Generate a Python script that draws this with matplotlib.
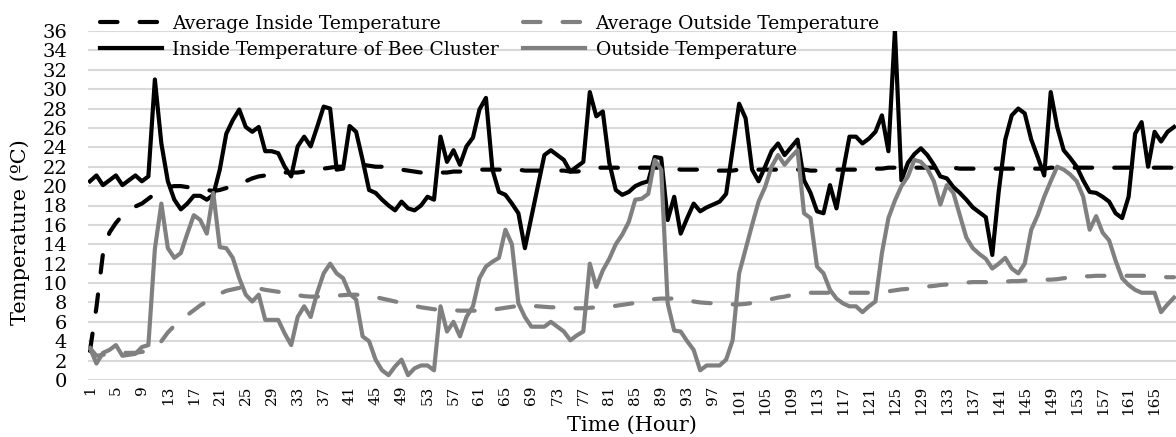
import matplotlib
matplotlib.use("Agg")
import matplotlib.pyplot as plt
import numpy as np

hours = np.arange(1, 169)

inside = [20.5, 21.1, 20.1, 20.6, 21.1, 20.1, 20.6, 21.1, 20.5, 21.0,
          31.0, 24.4, 20.5, 18.6, 17.6, 18.2, 19.0, 19.0, 18.6, 19.1,
          21.7, 25.4, 26.8, 27.9, 26.1, 25.6, 26.1, 23.6, 23.6, 23.4,
          22.0, 21.0, 24.1, 25.1, 24.1, 26.1, 28.2, 28.0, 21.7, 21.8,
          26.2, 25.6, 22.7, 19.6, 19.3, 18.6, 18.0, 17.5, 18.4, 17.7,
          17.5, 18.0, 18.9, 18.6, 25.1, 22.5, 23.7, 22.2, 24.1, 25.0,
          27.9, 29.1, 21.7, 19.4, 19.1, 18.2, 17.2, 13.6, 16.8, 20.0,
          23.2, 23.7, 23.2, 22.7, 21.5, 22.0, 22.5, 29.7, 27.2, 27.7,
          22.4, 19.6, 19.1, 19.4, 20.0, 20.3, 20.5, 23.0, 22.9, 16.5,
          18.9, 15.1, 16.7, 18.2, 17.4, 17.8, 18.1, 18.4, 19.2, 23.8,
          28.5, 27.0, 21.7, 20.5, 22.0, 23.6, 24.4, 23.2, 24.0, 24.8,
          20.6, 19.3, 17.4, 17.2, 20.1, 17.7, 21.5, 25.1, 25.1, 24.4,
          24.9, 25.6, 27.3, 23.6, 36.1, 20.6, 22.4, 23.3, 23.9, 23.2,
          22.2, 21.0, 20.8, 19.9, 19.3, 18.6, 17.8, 17.3, 16.8, 12.9,
          19.5, 24.8, 27.3, 28.0, 27.5, 24.8, 23.0, 21.1, 29.7, 26.1,
          23.7, 22.9, 22.0, 20.6, 19.4, 19.3, 18.9, 18.4, 17.2, 16.7,
          18.9, 25.4, 26.6, 22.0, 25.6, 24.6, 25.6, 26.1]

outside = [3.3, 1.7, 2.8, 3.1, 3.6, 2.5, 2.6, 2.7, 3.4, 3.6,
           13.5, 18.2, 13.6, 12.6, 13.1, 15.1, 17.0, 16.5, 15.1, 19.3,
           13.7, 13.6, 12.6, 10.5, 8.8, 8.1, 8.8, 6.2, 6.2, 6.2,
           4.8, 3.6, 6.5, 7.6, 6.5, 9.0, 11.0, 12.0, 11.0, 10.5,
           8.9, 8.3, 4.5, 4.0, 2.1, 1.0, 0.5, 1.4, 2.1, 0.5,
           1.2, 1.5, 1.5, 1.0, 7.6, 5.0, 6.0, 4.5, 6.5, 7.6,
           10.5, 11.7, 12.2, 12.6, 15.5, 14.0, 7.9, 6.5, 5.5, 5.5,
           5.5, 6.0, 5.5, 5.0, 4.1, 4.6, 5.0, 12.0, 9.6, 11.3,
           12.5, 14.0, 15.0, 16.3, 18.6, 18.7, 19.2, 22.7, 21.7, 7.9,
           5.1, 5.0, 4.0, 3.1, 1.0, 1.5, 1.5, 1.5, 2.1, 4.1,
           11.0, 13.5, 16.0, 18.4, 19.9, 22.0, 23.2, 22.2, 23.0, 23.7,
           17.2, 16.7, 11.7, 11.0, 9.3, 8.4, 7.9, 7.6, 7.6, 7.0,
           7.6, 8.1, 13.1, 16.7, 18.5, 20.0, 21.0, 22.7, 22.5, 21.8,
           20.5, 18.1, 20.1, 19.3, 17.0, 14.7, 13.6, 13.0, 12.5, 11.5,
           12.0, 12.6, 11.5, 11.0, 12.0, 15.5, 17.0, 18.9, 20.5, 22.0,
           21.7, 21.2, 20.5, 18.9, 15.5, 16.9, 15.2, 14.4, 12.3, 10.5,
           9.8, 9.3, 9.0, 9.0, 9.0, 7.0, 7.8, 8.5]

avg_inside = [3.0, 7.5, 13.0, 15.2, 16.2, 17.0, 17.5, 17.9, 18.2, 18.7,
              19.2, 19.6, 19.9, 20.0, 20.0, 19.9, 19.8, 19.7, 19.6, 19.5,
              19.6, 19.8, 20.0, 20.2, 20.5, 20.8, 21.0, 21.1, 21.2, 21.4,
              21.4, 21.4, 21.4, 21.5, 21.6, 21.7, 21.8, 21.9, 22.0, 22.0,
              22.1, 22.2, 22.2, 22.1, 22.0, 22.0, 21.9, 21.8, 21.7, 21.6,
              21.5, 21.4, 21.4, 21.4, 21.4, 21.4, 21.5, 21.5, 21.6, 21.6,
              21.7, 21.7, 21.7, 21.7, 21.7, 21.7, 21.7, 21.6, 21.6, 21.6,
              21.6, 21.6, 21.6, 21.6, 21.5, 21.5, 21.6, 21.8, 21.9, 21.9,
              21.9, 21.9, 21.9, 21.9, 21.9, 21.9, 21.9, 21.9, 21.9, 21.8,
              21.8, 21.7, 21.7, 21.7, 21.7, 21.6, 21.6, 21.6, 21.6, 21.6,
              21.7, 21.7, 21.7, 21.7, 21.7, 21.7, 21.7, 21.7, 21.7, 21.7,
              21.7, 21.6, 21.6, 21.6, 21.7, 21.7, 21.7, 21.7, 21.7, 21.8,
              21.8, 21.8, 21.8, 21.9, 21.9, 21.9, 21.9, 21.9, 21.9, 21.9,
              21.9, 21.9, 21.9, 21.9, 21.8, 21.8, 21.8, 21.8, 21.8, 21.8,
              21.8, 21.8, 21.8, 21.8, 21.8, 21.8, 21.8, 21.8, 21.9, 21.9,
              21.9, 21.9, 21.9, 21.9, 21.9, 21.9, 21.9, 21.9, 21.9, 21.9,
              21.9, 21.9, 21.9, 21.9, 21.9, 21.9, 21.9, 21.9]

avg_outside = [3.3, 2.5, 2.6, 2.7, 2.9, 2.8, 2.8, 2.8, 2.9, 3.0,
               3.3, 4.0, 4.9, 5.6, 6.2, 6.7, 7.2, 7.7, 8.1, 8.5,
               8.9, 9.2, 9.35, 9.5, 9.55, 9.5, 9.45, 9.3, 9.2, 9.1,
               8.95, 8.85, 8.75, 8.65, 8.6, 8.6, 8.6, 8.65, 8.7, 8.75,
               8.8, 8.8, 8.75, 8.7, 8.55, 8.4, 8.25, 8.1, 7.95, 7.8,
               7.65, 7.5, 7.4, 7.3, 7.25, 7.2, 7.2, 7.15, 7.15, 7.15,
               7.15, 7.2, 7.25, 7.35, 7.45, 7.55, 7.65, 7.65, 7.65, 7.6,
               7.55, 7.5, 7.5, 7.45, 7.4, 7.4, 7.4, 7.45, 7.5, 7.55,
               7.6, 7.65, 7.75, 7.85, 7.95, 8.05, 8.2, 8.35, 8.4, 8.4,
               8.4, 8.35, 8.2, 8.1, 8.0, 7.95, 7.9, 7.85, 7.8, 7.8,
               7.8, 7.85, 7.95, 8.1, 8.2, 8.35, 8.5, 8.6, 8.75, 8.85,
               8.95, 9.0, 9.0, 9.0, 9.0, 9.0, 9.0, 9.0, 9.0, 9.0,
               9.0, 9.0, 9.05, 9.15, 9.25, 9.35, 9.4, 9.5, 9.6, 9.65,
               9.7, 9.8, 9.85, 9.9, 10.0, 10.05, 10.1, 10.1, 10.1, 10.1,
               10.15, 10.15, 10.2, 10.2, 10.25, 10.3, 10.3, 10.35, 10.35, 10.4,
               10.5, 10.55, 10.65, 10.7, 10.7, 10.75, 10.75, 10.75, 10.75, 10.75,
               10.75, 10.75, 10.75, 10.75, 10.7, 10.65, 10.6, 10.6]

plt.rcParams['font.family'] = ['DejaVu Serif']
W, H = 1176, 437
fig = plt.figure(figsize=(W / 100, H / 100), dpi=100)
ax = fig.add_axes([88 / W, (H - 380) / H, 1088 / W, 349 / H])

lw = 3.0
dash = (4.2, 5.3)
l_ai, = ax.plot(hours, avg_inside, color="black", lw=lw, dashes=dash,
                dash_capstyle="round", zorder=3)
l_ao, = ax.plot(hours, avg_outside, color="#808080", lw=lw, dashes=dash,
                dash_capstyle="round", zorder=3)
l_in, = ax.plot(hours, inside, color="black", lw=lw, solid_joinstyle="round",
                zorder=4)
l_out, = ax.plot(hours, outside, color="#808080", lw=lw,
                 solid_joinstyle="round", zorder=5)

ax.set_xlim(0.7, 168.3)
ax.set_ylim(0, 36)
ax.set_yticks(np.arange(0, 37, 2))
ax.set_xticks(hours[::4])
ax.set_xticklabels([str(h) for h in hours[::4]], rotation=90, fontsize=11)
ax.tick_params(axis="y", labelsize=14, length=0, pad=15)
ax.tick_params(axis="x", length=0, pad=4)
ax.grid(axis="y", color="#d9d9d9", lw=1.5, zorder=0)
ax.set_axisbelow(True)
for s in ax.spines.values():
    s.set_visible(False)

fig.text(20 / W, 205 / H, "Temperature (ºC)", rotation=90, ha="center",
         va="center", fontsize=15)
fig.text(632 / W, 12 / H, "Time (Hour)", ha="center", va="center",
         fontsize=15)

fig.legend([l_ai, l_in, l_ao, l_out],
           ["Average Inside Temperature", "Inside Temperature of Bee Cluster",
            "Average Outside Temperature", "Outside Temperature"],
           ncol=2, loc="upper left", bbox_to_anchor=(100 / W, 1 - 15 / H),
           frameon=False, fontsize=13.5, handlelength=3.3, handletextpad=0.55,
           columnspacing=1.3, labelspacing=0.42, borderpad=0,
           borderaxespad=0)

fig.savefig("out.png", dpi=100)
